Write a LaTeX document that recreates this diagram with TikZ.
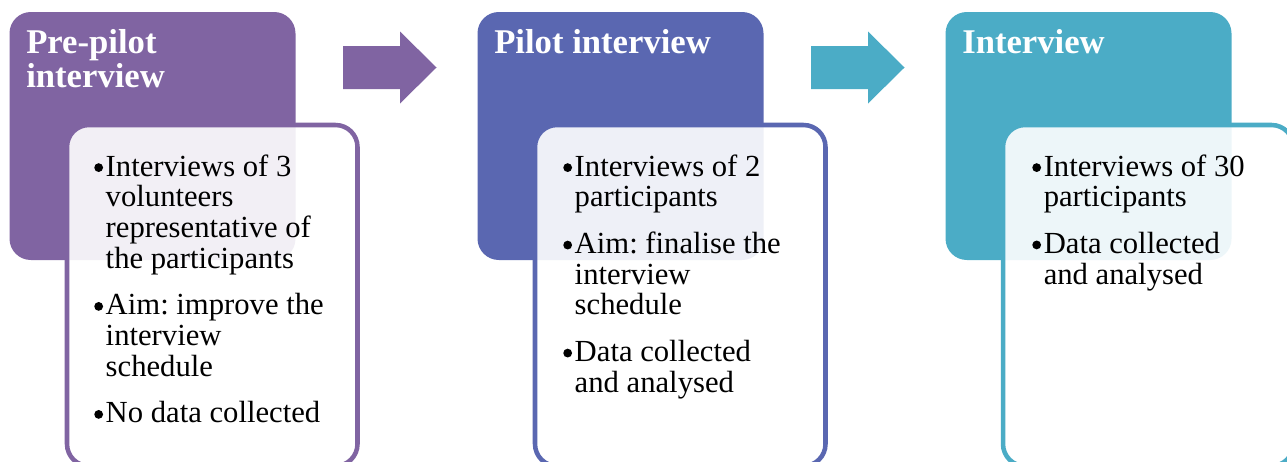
\documentclass[tikz,border=0pt]{standalone}
\usepackage{fontspec}
\setmainfont{Liberation Serif}
\usepackage{tikz}
\frenchspacing

\definecolor{prepilot}{HTML}{8064A2}
\definecolor{pilot}{HTML}{5A67B1}
\definecolor{mainrun}{HTML}{4BACC6}

% round list mark, a bit larger than the font's own bullet
\newcommand{\dotmark}{\makebox[8.6pt][l]{\tikz[baseline=0pt]\fill (3.4pt,6.3pt) circle (3.3pt);}}

\tikzset{
  stagebox/.style={rounded corners=16pt},
  listbox/.style={fill=white, fill opacity=0.9, line width=3.4pt, rounded corners=16.5pt},
  stagetitle/.style={anchor=base west, inner sep=0pt, text=white,
    font=\bfseries\fontsize{26}{25.5}\selectfont},
  bullets/.style={anchor=base west, inner sep=0pt, font=\fontsize{23}{23}\selectfont},
}

\begin{document}
\begin{tikzpicture}[x=0.75pt, y=-0.75pt]
  \useasboundingbox (0,0) rectangle (1287,461);

  % Stage 1: pre-pilot
  \fill[prepilot, stagebox] (9.5,12) rectangle (295.5,260);
  \draw[prepilot, listbox] (67,125) rectangle (357.5,466);
  \node[stagetitle] (pretitle) at (26,53)
    {\begin{tabular}[t]{@{}l@{}}Pre-pilot\\interview\end{tabular}};
  \node[bullets] (prelist) at (94,176) {\begin{tabular}[t]{@{}l@{}l@{}}
    \dotmark & Interviews of 3\\
             & volunteers\\
             & representative of\\
             & the participants\\[12pt]
    \dotmark & Aim: improve the\\
             & interview\\
             & schedule\\[12pt]
    \dotmark & No data collected
  \end{tabular}};

  % Arrow to stage 2
  \fill[prepilot] (343,46) -- (400,46) -- (400,31.5) -- (436.5,67.5)
    -- (400,103.5) -- (400,89) -- (343,89) -- cycle;

  % Stage 2: pilot
  \begin{scope}[xshift=351pt]
    \fill[pilot, stagebox] (9.5,12) rectangle (295.5,260);
    \draw[pilot, listbox] (67,125) rectangle (357.5,466);
    \node[stagetitle] (pilottitle) at (26,53) {Pilot interview};
    \node[bullets] (pilotlist) at (95,176) {\begin{tabular}[t]{@{}l@{}l@{}}
      \dotmark & Interviews of 2\\
               & participants\\[12pt]
      \dotmark & Aim: finalise the\\
               & interview\\
               & schedule\\[12pt]
      \dotmark & Data collected\\
               & and analysed
    \end{tabular}};

    % Arrow to stage 3
    \fill[mainrun] (343,46) -- (400,46) -- (400,31.5) -- (436.5,67.5)
      -- (400,103.5) -- (400,89) -- (343,89) -- cycle;
  \end{scope}

  % Stage 3: main interviews
  \begin{scope}[xshift=702pt]
    \fill[mainrun, stagebox] (9.5,12) rectangle (295.5,260);
    \draw[mainrun, listbox] (67,125) rectangle (357.5,466);
    \node[stagetitle] (maintitle) at (26,53) {Interview};
    \node[bullets] (mainlist) at (96,176) {\begin{tabular}[t]{@{}l@{}l@{}}
      \dotmark & Interviews of 30\\
               & participants\\[12pt]
      \dotmark & Data collected\\
               & and analysed
    \end{tabular}};
  \end{scope}
\end{tikzpicture}
\end{document}
